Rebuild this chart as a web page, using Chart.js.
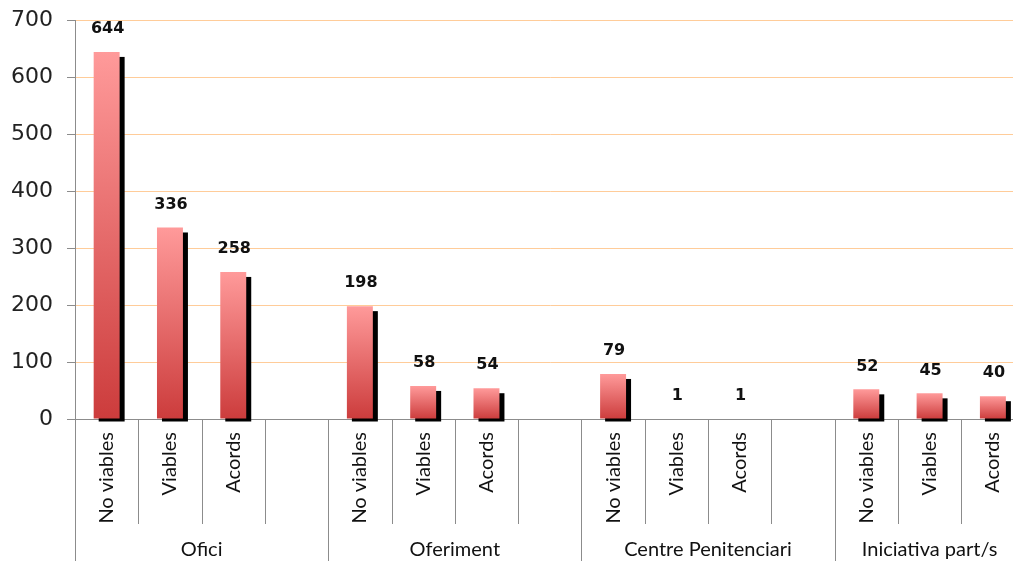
<!DOCTYPE html>
<html>
<head>
<meta charset="utf-8">
<script src="https://cdn.jsdelivr.net/npm/chart.js@4/dist/chart.umd.min.js"></script>
<style>
  html, body { margin: 0; padding: 0; background: #fff; overflow: hidden; }
  #wrap { width: 1030px; height: 561px; }
</style>
</head>
<body>
<div id="wrap"><canvas id="chart" width="1030" height="561"></canvas></div>
<script>
// categories (empty slot after each group, like the original sheet)
const categories = ['No viables', 'Viables', 'Acords', '',
                    'No viables', 'Viables', 'Acords', '',
                    'No viables', 'Viables', 'Acords', '',
                    'No viables', 'Viables', 'Acords'];
const values = [644, 336, 258, null,
                198, 58, 54, null,
                79, 1, 1, null,
                52, 45, 40];
const groupNames = ['Ofici', 'Oferiment', 'Centre Penitenciari', 'Iniciativa part/s'];
const groupSizes = [4, 4, 4, 3];
const yMin = 0, yMax = 700, yStep = 100;

const axisGrey = '#8c8c8c';

// black drop shadow behind every bar
const shadowPlugin = {
  id: 'barShadow',
  beforeDatasetsDraw(chart) {
    const c = chart.ctx;
    const meta = chart.getDatasetMeta(0);
    c.save();
    c.fillStyle = '#000';
    meta.data.forEach((bar, i) => {
      if (values[i] == null) return;
      const p = bar.getProps(['x', 'y', 'base', 'width'], true);
      const top = p.y + 5, bottom = p.base + 3;
      if (bottom - top <= 0) return;
      c.fillRect(p.x - p.width / 2 + 5, top, p.width, bottom - top);
    });
    c.restore();
  }
};

// value labels above bars
const labelPlugin = {
  id: 'valueLabels',
  afterDatasetsDraw(chart) {
    const c = chart.ctx;
    const meta = chart.getDatasetMeta(0);
    c.save();
    c.font = 'bold 16px "DejaVu Sans"';
    c.fillStyle = '#111';
    c.textAlign = 'center';
    c.textBaseline = 'middle';
    meta.data.forEach((bar, i) => {
      if (values[i] == null) return;
      c.fillText(String(values[i]), bar.x + 1, bar.y - 23);
    });
    c.restore();
  }
};

// separators and group labels under the x axis
const groupAxisPlugin = {
  id: 'groupAxis',
  afterDraw(chart) {
    const c = chart.ctx;
    const x = chart.scales.x;
    const bottom = chart.chartArea.bottom;
    const slot = x.getPixelForValue(1) - x.getPixelForValue(0);
    const edge = i => x.getPixelForValue(i) - slot / 2;
    const starts = [];
    let s = 0;
    groupSizes.forEach(n => { starts.push(s); s += n; });

    c.save();
    c.strokeStyle = axisGrey;
    c.lineWidth = 1;
    for (let i = 0; i <= categories.length; i++) {
      const px = Math.round(edge(i)) + 0.5;
      const long = starts.includes(i);
      c.beginPath();
      c.moveTo(px, bottom);
      c.lineTo(px, long ? chart.height : 524);
      c.stroke();
    }
    c.font = '20px Lato';
    c.fillStyle = '#111';
    c.textAlign = 'center';
    c.textBaseline = 'middle';
    groupNames.forEach((name, g) => {
      const cx = (edge(starts[g]) + edge(starts[g] + groupSizes[g])) / 2;
      c.fillText(name, cx, 550);
    });
    c.restore();
  }
};

function barGradient(ctx) {
  const chart = ctx.chart;
  if (!chart.chartArea || ctx.raw == null) return '#d04848';
  const y = chart.scales.y;
  const top = y.getPixelForValue(ctx.raw);
  const bot = y.getPixelForValue(0);
  if (bot - top < 1) return '#cc3c3c';
  const g = chart.ctx.createLinearGradient(0, top, 0, bot);
  g.addColorStop(0, '#ff9a9a');
  g.addColorStop(1, '#cc3c3c');
  return g;
}

new Chart(document.getElementById('chart'), {
  type: 'bar',
  data: {
    labels: categories,
    datasets: [{
      data: values,
      backgroundColor: barGradient,
      borderWidth: 0,
      categoryPercentage: 1,
      barPercentage: 0.41
    }]
  },
  options: {
    responsive: false,
    animation: false,
    layout: { padding: { top: 20, right: 3, left: 0, bottom: 0 } },
    plugins: { legend: { display: false }, tooltip: { enabled: false } },
    scales: {
      x: {
        grid: { display: false, drawTicks: false },
        border: { color: axisGrey },
        ticks: {
          autoSkip: false,
          minRotation: 90,
          maxRotation: 90,
          padding: 13,
          color: '#111',
          font: { family: 'Lato', size: 20 }
        },
        afterFit(scale) { scale.height = 142; }
      },
      y: {
        min: yMin,
        max: yMax,
        grid: { color: '#ffcc99', tickColor: axisGrey, tickLength: 8 },
        border: { color: axisGrey },
        ticks: {
          stepSize: yStep,
          padding: 14,
          color: '#222',
          font: { family: 'DejaVu Sans', size: 22 }
        },
        afterFit(scale) {
          scale.width = 75;
          scale.paddingTop = 0;
          scale.paddingBottom = 0;
        }
      }
    }
  },
  plugins: [shadowPlugin, labelPlugin, groupAxisPlugin]
});
</script>
</body>
</html>
